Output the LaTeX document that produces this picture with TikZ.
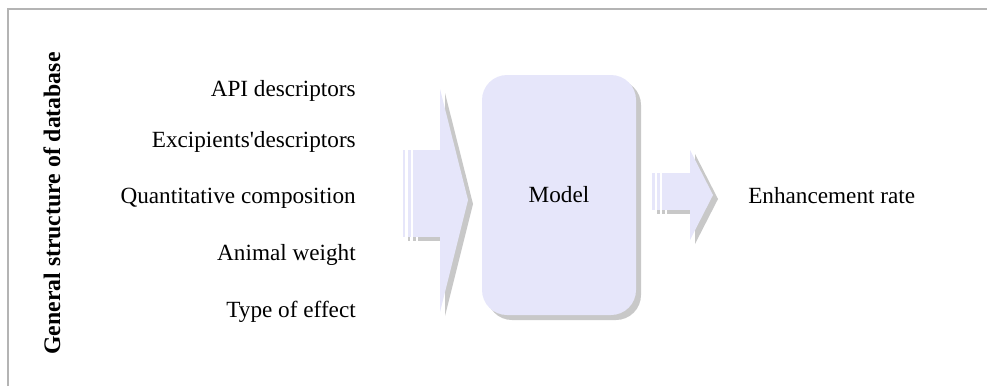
\documentclass[tikz,border=0pt]{standalone}
\usepackage{fontspec}
\setmainfont{Liberation Serif}
\usetikzlibrary{shadows}
\definecolor{lav}{HTML}{E6E6FA}
\definecolor{shade}{HTML}{C8C8C8}
\definecolor{frame}{HTML}{B4B4B4}
\tikzset{
  lbl/.style={font=\fontsize{17.4}{20}\selectfont, inner sep=0pt},
  labelL/.style={lbl, anchor=base east},
  boxfill/.style={fill=lav},
  shadowfill/.style={fill=shade},
}
% striped arrow: #1 x of first stripe, #2 tail top, #3 tail bottom, #4 head x, #5 head top, #6 tip x, #7 tip y, #8 head bottom
\newcommand{\stripedarrow}[8]{%
  \begin{scope}[shift={(5,4)}]
    \fill[shadowfill] (#1,#2) rectangle ++(2.7,#3-#2);
    \fill[shadowfill] (#1+5.3,#2) rectangle ++(2.7,#3-#2);
    \fill[shadowfill] (#1+10.3,#2) rectangle (#4,#3);
    \fill[shadowfill] (#4,#5) -- (#6,#7) -- (#4,#8) -- cycle;
  \end{scope}
  \fill[white] (#1+2.7,#2) rectangle (#1+5.3,#3);
  \fill[white] (#1+8,#2) rectangle (#1+10.3,#3);
  \fill[boxfill] (#1,#2) rectangle ++(2.7,#3-#2);
  \fill[boxfill] (#1+5.3,#2) rectangle ++(2.7,#3-#2);
  \fill[boxfill] (#1+10.3,#2) rectangle (#4,#3);
  \fill[boxfill] (#4,#5) -- (#6,#7) -- (#4,#8) -- cycle;
}
\begin{document}
\begin{tikzpicture}[x=0.75pt, y=-0.75pt]
  \useasboundingbox (0,0) rectangle (987,386);
  % outer frame (top and left edges)
  \draw[frame, line width=1.5pt] (8,386) -- (8,9) -- (987,9);

  % vertical title
  \node[font=\fontsize{17.8}{20}\selectfont\bfseries, rotate=90, inner sep=0pt]
    (title) at (52,203.5) {General structure of database};

  % input variables
  \node[labelL] (api)  at (356,96.7) {API descriptors};
  \node[labelL] (exc)  at (356,147)  {Excipients\textquotesingle descriptors};
  \node[labelL] (qc)   at (356,203)  {Quantitative composition};
  \node[labelL] (aw)   at (356,260)  {Animal weight};
  \node[labelL] (toe)  at (356,317)  {Type of effect};

  % input arrow
  \stripedarrow{402.7}{150}{237}{440}{89}{468}{200}{312}

  % model box
  \node[boxfill, rounded corners=18.75pt, minimum width=115.5pt, minimum height=180pt,
        inner sep=0pt, lbl,
        drop shadow={shadow xshift=3.75pt, shadow yshift=-3.75pt, fill=shade, opacity=1}]
    (model) at (559,195) {Model};

  % output arrow
  \stripedarrow{652}{173}{210}{690}{150}{713}{195}{240}

  % output
  \node[lbl, anchor=base west] (out) at (748,203) {Enhancement rate};
\end{tikzpicture}
\end{document}
